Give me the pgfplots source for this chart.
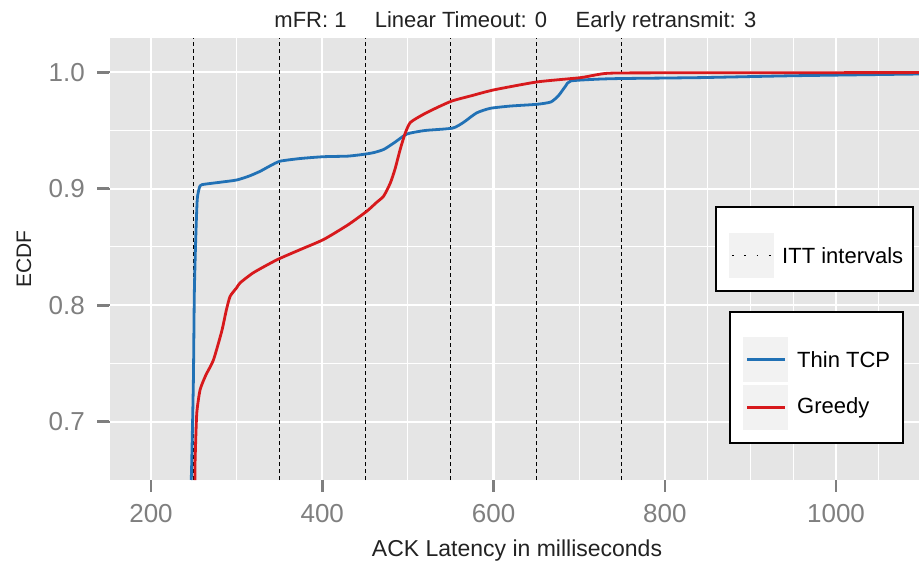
\documentclass[border=0pt]{standalone}
\usepackage{fontspec}
\setmainfont{Liberation Sans}
\usepackage{pgfplots}
\pgfplotsset{compat=1.18}
\definecolor{ggbg}{HTML}{E5E5E5}
\definecolor{gggray}{HTML}{7F7F7F}
\definecolor{keybg}{HTML}{F2F2F2}
\definecolor{thinblue}{RGB}{33,113,181}
\definecolor{greedyred}{RGB}{215,25,28}
\definecolor{txt}{HTML}{222222}
\begin{document}
\begin{tikzpicture}
\begin{axis}[
  name=ax, at={(0,0)}, anchor=south west,
  scale only axis, width=809bp, height=442bp,
  xmin=152.1, xmax=1096.9, ymin=0.650, ymax=1.0294,
  axis background/.style={fill=ggbg},
  axis x line*=bottom, axis y line*=left,
  axis line style={draw=none},
  xtick={200,400,600,800,1000},
  xticklabels={200,400,600,800,1000},
  ytick={0.7,0.8,0.9,1.0},
  yticklabels={0.7,0.8,0.9,1.0},
  minor xtick={300,500,700,850,900,950,1050},
  minor ytick={0.75,0.85,0.95},
  grid=both,
  major grid style={white, line width=2.2bp},
  minor grid style={white, line width=1bp},
  tick align=outside,
  major tick length=11bp, minor tick length=0bp,
  tick style={draw=gggray, line width=2bp},
  xticklabel style={font=\fontsize{26bp}{30bp}\selectfont, text=gggray, anchor=base, inner sep=0pt, yshift=-31bp},
  yticklabel style={font=\fontsize{26bp}{30bp}\selectfont, text=gggray, anchor=east, inner sep=0pt, xshift=-14bp},
]
% ITT interval lines
\addplot[forget plot, black, line width=1bp, dash pattern=on 4bp off 3bp] coordinates {(250,0.650) (250,1.0294)};
\addplot[forget plot, black, line width=1bp, dash pattern=on 4bp off 3bp] coordinates {(350,0.650) (350,1.0294)};
\addplot[forget plot, black, line width=1bp, dash pattern=on 4bp off 3bp] coordinates {(450,0.650) (450,1.0294)};
\addplot[forget plot, black, line width=1bp, dash pattern=on 4bp off 3bp] coordinates {(550,0.650) (550,1.0294)};
\addplot[forget plot, black, line width=1bp, dash pattern=on 4bp off 3bp] coordinates {(650,0.650) (650,1.0294)};
\addplot[forget plot, black, line width=1bp, dash pattern=on 4bp off 3bp] coordinates {(750,0.650) (750,1.0294)};
% Thin TCP
\addplot[thinblue, line width=2.8bp, line join=round, smooth, tension=0.35] coordinates {
(247,0.650) (247.6,0.667) (249.5,0.736) (250.6,0.811) (252.3,0.859) (254,0.891)
(256.5,0.901) (259.5,0.9035) (280,0.9055) (300,0.9075) (315,0.911) (327.5,0.915)
(340,0.920) (351,0.9237) (375,0.926) (401.5,0.9275) (430,0.928) (448,0.9295)
(460,0.931) (472,0.9338) (485,0.940) (499,0.947) (520,0.950) (552,0.952)
(565,0.957) (580,0.965) (596,0.969) (620,0.971) (651,0.9725) (667,0.9745)
(676,0.980) (684,0.988) (690,0.9925) (720,0.994) (749,0.9946) (842,0.9954)
(950,0.997) (1100,0.9985)};
% Greedy
\addplot[greedyred, line width=2.8bp, line join=round, smooth, tension=0.35] coordinates {
(251.3,0.650) (251.5,0.667) (253.4,0.707) (257.3,0.7274) (264,0.740) (272.9,0.753)
(282.7,0.778) (288,0.796) (292.4,0.8077) (300,0.8150) (304,0.8192) (319.7,0.828)
(347,0.839) (375,0.848) (401.5,0.8564) (430,0.869) (452,0.8807) (463,0.888)
(471.7,0.8937) (479.5,0.905) (485,0.917) (491,0.9338) (497,0.948) (503,0.957)
(518.5,0.964) (535,0.970) (551.7,0.9754) (575,0.980) (600,0.9848) (651,0.9917)
(702,0.9954) (733,0.9991) (800,0.9995) (1100,0.9997)};
\end{axis}
\begin{scope}[shift={(ax.south west)}, shift={(-110bp,480bp)}, x=1bp, y=-1bp]
% tick marks
\draw[gggray, line width=2.6bp] (151,480.5) -- (151,492);
\draw[gggray, line width=2.6bp] (322.3,480.5) -- (322.3,492);
\draw[gggray, line width=2.6bp] (493.5,480.5) -- (493.5,492);
\draw[gggray, line width=2.6bp] (664.8,480.5) -- (664.8,492);
\draw[gggray, line width=2.6bp] (836,480.5) -- (836,492);
\draw[gggray, line width=2.6bp] (97.5,72.25) -- (109.5,72.25);
\draw[gggray, line width=2.6bp] (97.5,188.75) -- (109.5,188.75);
\draw[gggray, line width=2.6bp] (97.5,305.25) -- (109.5,305.25);
\draw[gggray, line width=2.6bp] (97.5,421.75) -- (109.5,421.75);
% title
\node[anchor=base, inner sep=0pt, font=\fontsize{22bp}{26bp}\selectfont, text=txt] at (310.5,28) {mFR: 1};
\node[anchor=base, inner sep=0pt, font=\fontsize{22bp}{26bp}\selectfont, text=txt] at (461,28) {Linear Timeout: 0};
\node[anchor=base, inner sep=0pt, font=\fontsize{22bp}{26bp}\selectfont, text=txt] at (666,28) {Early retransmit: 3};
% axis titles
\node[anchor=base, inner sep=0pt, font=\fontsize{23bp}{27bp}\selectfont, text=txt] at (517,557) {ACK Latency in milliseconds};
\node[rotate=90, inner sep=0pt, font=\fontsize{21bp}{25bp}\selectfont, text=txt] at (24,259) {ECDF};
% ITT legend
\draw[black, line width=1.2bp, fill=white] (716,207) rectangle (913,291);
\fill[keybg] (729,233) rectangle (774,278);
\draw[black, line width=1.8bp, dash pattern=on 1.6bp off 10.7bp] (732,255.5) -- (772,255.5);
\node[anchor=west, inner sep=0pt, font=\fontsize{22bp}{26bp}\selectfont] at (782,255.5) {ITT intervals};
% series legend
\draw[black, line width=1.2bp, fill=white] (730,312) rectangle (903,443);
\fill[keybg] (743,337) rectangle (788,382);
\fill[keybg] (743,385) rectangle (788,430);
\draw[thinblue, line width=2.8bp] (747,359.5) -- (785,359.5);
\draw[greedyred, line width=2.8bp] (747,407.5) -- (785,407.5);
\node[anchor=west, inner sep=0pt, font=\fontsize{22bp}{26bp}\selectfont] at (797,359.5) {Thin TCP};
\node[anchor=west, inner sep=0pt, font=\fontsize{22bp}{26bp}\selectfont] at (797,407.5) {Greedy};
\pgfresetboundingbox
\path (0,0) rectangle (919,566);
\end{scope}
\end{tikzpicture}
\end{document}
